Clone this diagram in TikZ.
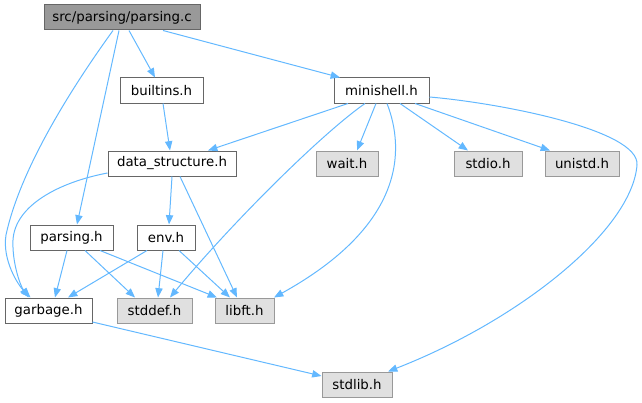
\documentclass[tikz,border=0pt]{standalone}
\usepackage{fontspec}
\setmainfont{DejaVu Sans}
\usetikzlibrary{arrows.meta,calc}
\definecolor{edgeblue}{HTML}{63B8FF}
\definecolor{sysfill}{HTML}{E0E0E0}
\definecolor{mainfill}{HTML}{999999}

\begin{document}
\begin{tikzpicture}[x=0.75pt,y=-0.75pt,
  hdr/.style={draw=black!60,fill=white,line width=0.75pt,minimum height=18.75pt,
    inner sep=0pt,font=\fontsize{10}{12}\selectfont},
  syshdr/.style={hdr,draw=black!40,fill=sysfill},
  mainfile/.style={hdr,draw=black!60,fill=mainfill},
  wd/.style={minimum width=#1*0.75pt},
  dep/.style={draw=edgeblue,line width=0.75pt,-{Triangle[length=7pt,width=5.5pt]}}]

 \useasboundingbox (0,0) rectangle (642,403);

 % files
 \node[mainfile,wd=156] (parsingc) at (122,17.5) {src/parsing/parsing.c};
 \node[hdr,wd=83] (builtins) at (161.5,90.5) {builtins.h};
 \node[hdr,wd=95] (minishell) at (381.5,90.5) {minishell.h};
 \node[hdr,wd=128] (datastruct) at (172,163.5) {data\_structure.h};
 \node[syshdr,wd=62] (wait) at (347,163.5) {wait.h};
 \node[syshdr,wd=68] (stdio) at (488,163.5) {stdio.h};
 \node[syshdr,wd=74] (unistd) at (582,163.5) {unistd.h};
 \node[hdr,wd=83] (parsingh) at (71.5,237.5) {parsing.h};
 \node[hdr,wd=58] (env) at (166,237.5) {env.h};
 \node[hdr,wd=87] (garbage) at (48.5,310.5) {garbage.h};
 \node[syshdr,wd=75] (stddef) at (154.5,310.5) {stddef.h};
 \node[syshdr,wd=59] (libft) at (244.5,310.5) {libft.h};
 \node[syshdr,wd=70] (stdlib) at (357,384.5) {stdlib.h};

 % includes of parsing.c
 \draw[dep] ($(parsingc.south)+(7,0)$) -- ($(builtins.north)+(-6.5,0)$);
 \draw[dep] ($(parsingc.south)+(41,0)$) -- ($(minishell.north)+(-41.5,0)$);
 \draw[dep] ($(parsingc.south)+(-3,0)$) -- ($(parsingh.north)+(5.5,0)$);
 \draw[dep] ($(parsingc.south)+(-9,0)$) .. controls (70,90) and (20,170) .. (6,235)
   .. controls (2,260) and (18,285) .. ($(garbage.north)+(-18,0)$);

 % builtins.h and minishell.h
 \draw[dep] ($(builtins.south)+(1.5,0)$) -- ($(datastruct.north)+(-2,0)$);
 \draw[dep] ($(minishell.south)+(-33.5,0)$) -- ($(datastruct.north)+(36,0)$);
 \draw[dep] ($(minishell.south)+(-5.5,0)$) -- ($(wait.north)+(10,0)$);
 \draw[dep] ($(minishell.south)+(18.5,0)$) -- ($(stdio.north)+(-20,0)$);
 \draw[dep] ($(minishell.south)+(33.5,0)$) -- ($(unistd.north)+(-32,0)$);
 \draw[dep] ($(minishell.south)+(-16.5,0)$) .. controls (320,135) and (230,225)
   .. ($(stddef.north)+(15.5,0)$);
 \draw[dep] ($(minishell.south)+(5.5,0)$) .. controls (405,150) and (405,225)
   .. ($(libft.north)+(29.5,0)$);
 \draw[dep] ($(minishell.east)+(0,6.5)$) .. controls (500,103) and (640,130) .. (637,165)
   .. controls (632,230) and (520,320) .. ($(stdlib.north)+(31,0)$);

 % data_structure.h
 \draw[dep] ($(datastruct.west)+(0,9.5)$) .. controls (60,182) and (15,205) .. (13,240)
   .. controls (12,262) and (20,285) .. ($(garbage.north)+(-20,0)$);
 \draw[dep] (datastruct.south) -- ($(env.north)+(3,0)$);
 \draw[dep] ($(datastruct.south)+(8,0)$) -- ($(libft.north)+(-7.5,0)$);

 % parsing.h and env.h
 \draw[dep] ($(parsingh.south)+(-4.5,0)$) -- ($(garbage.north)+(6.5,0)$);
 \draw[dep] ($(parsingh.south)+(13.5,0)$) -- ($(stddef.north)+(-19.5,0)$);
 \draw[dep] ($(parsingh.south)+(28.5,0)$) -- ($(libft.north)+(-27.5,0)$);
 \draw[dep] ($(env.south)+(-19,0)$) -- ($(garbage.north)+(19.5,0)$);
 \draw[dep] ($(env.south)+(-3,0)$) -- ($(stddef.north)+(3.5,0)$);
 \draw[dep] ($(env.south)+(13,0)$) -- ($(libft.north)+(-14.5,0)$);

 % garbage.h
 \draw[dep] ($(garbage.east)+(0,11.5)$) -- ($(stdlib.west)+(0,-8.5)$);

\end{tikzpicture}
\end{document}
